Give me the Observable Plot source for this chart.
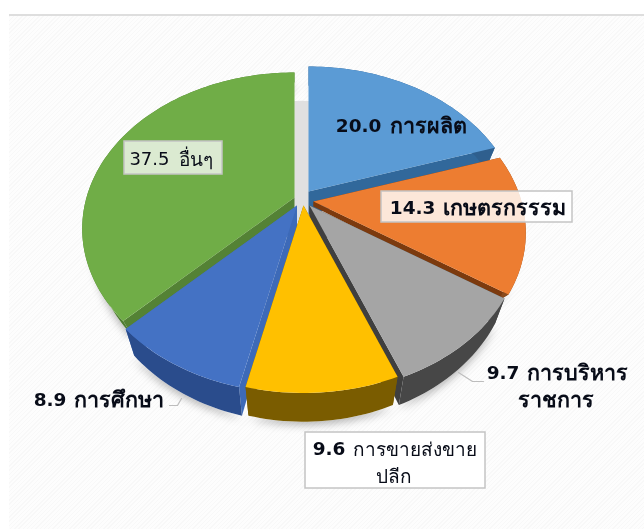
<!DOCTYPE html>
<html><head><meta charset="utf-8">
<script src="https://cdn.jsdelivr.net/npm/d3@7"></script>
<script src="https://cdn.jsdelivr.net/npm/@observablehq/plot@0.6"></script>
<style>
html,body{margin:0;padding:0;background:#fff;overflow:hidden}
#wrap{position:relative;width:644px;height:529px;overflow:hidden}
#wrap:before{content:"";position:absolute;left:9px;top:14px;right:0;bottom:0;border-top:2px solid #dedede;
background:repeating-linear-gradient(135deg,#f8f8f8 0 1px,#fdfdfd 1px 3px)}
#wrap svg{position:absolute;left:0;top:0;background:transparent;filter:blur(.35px)}
</style></head><body><div id="wrap"></div>
<script>
// Data
const sectors = ["การผลิต","เกษตรกรรรม","การบริหารราชการ","การขายส่งขายปลีก","การศึกษา","อื่นๆ"];
const shares  = [20.0,14.3,9.7,9.6,8.9,37.5];
const topColors  = ["#5b9bd5","#ed7d31","#a5a5a5","#ffc000","#4472c4","#70ad47"];
const rimColors  = ["#2f5f8e","#8a4a1c","#474747","#7a5c00","#2a4c8c","#4f7d32"];
const edgeColors = ["#31689b","#7c3a0e","#3f3f3f","#7f6000","#3d6ab8","#548235"];

// Pie layout: where each exploded slice's tip sits, its visible thickness, and the tilt of the disc
const tips = [[308,191],[313,201],[309,205],[303,205],[296.5,205],[294,197]];
const depths = [23,5,23,23,23,12];
const R = 208, RY = 150, P = 0.2, SHRINK = 0.95;
const paintOrder = [5,0,1,2,4,3];

// Labels
const boxes = [
  {x1:124,x2:222,y1:141,y2:174,fill:"#ffffff",op:.75},
  {x1:381,x2:572,y1:191,y2:222,fill:"#ffffff",op:.82},
  {x1:305,x2:485,y1:432,y2:488,fill:"#ffffff",op:1}
];
const boldNumbers = [
  {t:"20.0",x:381,y:126},
  {t:"14.3",x:435,y:208},
  {t:"9.7",x:519,y:373},
  {t:"9.6",x:345,y:449},
  {t:"8.9",x:66,y:400}
];
const plainNumbers = [{t:"37.5",x:169,y:159}];
const boldThai = [
  {t:"การผลิต",x:389,y:126},
  {t:"เกษตรกรรรม",x:442,y:208},
  {t:"การบริหาร",x:526,y:373},
  {t:"การศึกษา",x:73,y:400}
];
const plainThai = [
  {t:"การขายส่งขาย",x:352,y:449},
  {t:"อื่นๆ",x:178,y:159}
];
const secondBold = [{t:"ราชการ",x:555,y:400}];
const secondPlain = [{t:"ปลีก",x:393,y:476}];
const leaders = [
  {k:"a",x:458,y:372},{k:"a",x:472,y:381},{k:"a",x:483,y:381},
  {k:"b",x:169,y:405},{k:"b",x:177,y:405},{k:"b",x:181,y:398}
];

// Geometry: perspective projection of the disc
const total = d3.sum(shares);
let run = 0;
const spans = shares.map(v => { const a0 = run/total*2*Math.PI; run += v; return [a0, run/total*2*Math.PI]; });
function topPt(a,i,r=1){
  const u=Math.sin(a)*r, v=-Math.cos(a)*r, s=1/(1-P*v);
  return {x:tips[i][0]+R*u*s, y:tips[i][1]+RY*v*s, s};
}
function botPt(a,i,r=1){
  const p=topPt(a,i,r), t=tips[i];
  return {x:t[0]+(p.x-t[0])*SHRINK, y:p.y+depths[i]*p.s};
}
function arc(i,fn){
  const [a0,a1]=spans[i], n=Math.max(8,Math.ceil((a1-a0)*40)), out=[];
  for(let j=0;j<=n;j++) out.push(fn(a0+(a1-a0)*j/n,i));
  return out;
}
const walls=[];
paintOrder.forEach((i,o)=>{
  const top=arc(i,topPt), bot=arc(i,botPt), [a0,a1]=spans[i];
  const apexTop={x:tips[i][0],y:tips[i][1]}, apexBot={x:tips[i][0],y:tips[i][1]+depths[i]};
  const tag=(pts,key,color)=>pts.map(p=>({x:p.x,y:p.y,key,color}));
  walls.push(...tag([apexTop,topPt(a0,i),botPt(a0,i),apexBot],`${o}-e0`,edgeColors[i]));
  walls.push(...tag([apexTop,topPt(a1,i),botPt(a1,i),apexBot],`${o}-e1`,edgeColors[i]));
  walls.push(...tag([...top,...bot.slice().reverse()],`${o}-rim`,rimColors[i]));
  walls.push(...tag([apexTop,...top],`${o}-top`,topColors[i]));
});
// pale shaded core seen between the two upper slices
const core=d3.range(0,61).map(j=>{const a=j/60*2*Math.PI,u=Math.sin(a)*.74,v=-Math.cos(a)*.74,s=1/(1-P*v);
  return {x:301+R*u*s,y:197+RY*v*s};});
// silhouette for the cast shadow
const shadow=[];
[0,1,2,3,4,5].forEach(i=>arc(i,botPt).forEach(p=>shadow.push({x:p.x,y:p.y,key:i})));

const polyOpts={x:"x",y:"y",z:"key",fill:"color",stroke:"none",curve:"linear-closed"};
const numStyle={fontFamily:"'DejaVu Sans',sans-serif",fill:"#080c18",lineAnchor:"middle"};
const thaiStyle={fontFamily:"'Noto Sans',Tahoma,sans-serif",fill:"#080c18",lineAnchor:"middle"};
const plot=Plot.plot({
  width:644,height:529,margin:0,
  style:{background:"transparent",overflow:"visible"},
  x:{domain:[0,644],range:[0,644],axis:null},
  y:{domain:[0,529],range:[0,529],axis:null},
  color:{type:"identity"},
  marks:[
    Plot.line(shadow,{x:"x",y:"y",z:"key",fill:"#ffffff",stroke:"none",curve:"linear",imageFilter:"drop-shadow(0 3px 4px rgba(0,0,0,.3))"}),
    Plot.line(core,{x:"x",y:"y",fill:"#e0e0e0",stroke:"none",curve:"linear-closed"}),
    Plot.line(walls,polyOpts),
    Plot.line(leaders,{x:"x",y:"y",z:"k",stroke:"#bdbdbd",strokeWidth:1.2}),
    Plot.rect(boxes,{x1:"x1",x2:"x2",y1:"y1",y2:"y2",fill:"fill",fillOpacity:"op",stroke:"#c4c4c4",strokeWidth:1.5}),
    Plot.text(boldNumbers,{x:"x",y:"y",text:"t",textAnchor:"end",fontWeight:"bold",fontSize:18.5,...numStyle}),
    Plot.text(plainNumbers,{x:"x",y:"y",text:"t",textAnchor:"end",fontSize:18,...numStyle}),
    Plot.text(boldThai,{x:"x",y:"y",text:"t",textAnchor:"start",fontWeight:"bold",fontSize:21.5,...thaiStyle}),
    Plot.text(plainThai,{x:"x",y:"y",text:"t",textAnchor:"start",fontSize:19,...thaiStyle}),
    Plot.text(secondBold,{x:"x",y:"y",text:"t",textAnchor:"middle",fontWeight:"bold",fontSize:21.5,...thaiStyle}),
    Plot.text(secondPlain,{x:"x",y:"y",text:"t",textAnchor:"middle",fontSize:19,...thaiStyle})
  ]
});
document.getElementById("wrap").appendChild(plot);
</script></body></html>
